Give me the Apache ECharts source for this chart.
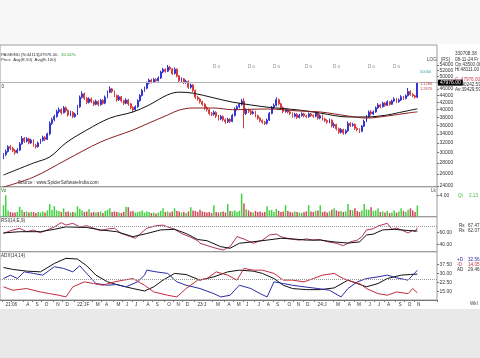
<!DOCTYPE html>
<html><head><meta charset="utf-8">
<script src="https://cdn.jsdelivr.net/npm/echarts@6/dist/echarts.min.js"></script>
<style>html,body{margin:0;padding:0;background:#fff}#c{width:480px;height:358px}</style>
</head><body><div id="c"></div>
<script>
// ---------- DATA ----------
const startDateUTC = [2021, 5, 4]; // first weekly bar (week ending 04-06-2021)
const monthLabels = ['21:06','J','A','S','O','N','D',
  '22:J','F','M','A','M','J','J','A','S','O','N','D',
  '23:J','','M','A','M','J','J','A','S','O','N','D',
  '24:J','','M','A','M','J','J','A','S','O','N'];

const opens = [29000,29600,30200,31200,30900,30400,30000,30500,31800,33000,
32400,32900,32000,32600,31500,31200,32000,32600,33200,32800,
34000,36500,37400,38200,39500,40000,39200,40500,39800,38600,
39300,38200,38800,40800,43500,44500,43200,42000,43000,42200,
41500,42300,41400,42600,41800,43500,45000,46000,45200,44000,
42800,43600,42500,41800,42700,41600,40600,40000,40800,42500,
44000,45500,46200,47800,48800,48200,49000,48600,49500,51500,
52400,51800,53200,52600,51000,52500,50200,48600,49200,48000,
48400,46500,47200,45500,43500,43000,42200,41500,40500,40000,
39000,38800,39300,38300,37600,38200,37400,36900,37500,37000,
38500,40200,40800,41500,42400,39000,40000,39600,39000,39400,
38400,37800,37200,36800,36500,37300,39000,40600,41200,42800,
41600,40600,39500,40000,39400,39000,38300,38800,38000,38500,
38900,38400,38200,38900,38500,38300,39200,37800,38400,37600,
37200,36800,37300,35900,36200,35200,34400,35000,34200,34700,
36500,36000,36200,35300,35000,34600,35800,37000,38200,39400,
38900,39400,40500,41300,40800,41800,41200,42200,41500,42400,
43000,42200,42700,43600,43100,43900,45200,44300,43900,43500];

const closes = [29600,30200,31200,30900,30400,30000,30500,31800,33000,32400,
32900,32000,32600,31500,31200,32000,32600,33200,32800,34000,
36500,37400,38200,39500,40000,39200,40500,39800,38600,39300,
38200,38800,40800,43500,44500,43200,42000,43000,42200,41500,
42300,41400,42600,41800,43500,45000,46000,45200,44000,42800,
43600,42500,41800,42700,41600,40600,40000,40800,42500,44000,
45500,46200,47800,48800,48200,49000,48600,49500,51500,52400,
51800,53200,52600,51000,52500,50200,48600,49200,48000,48400,
46500,47200,45500,43500,43000,42200,41500,40500,40000,39000,
38800,39300,38300,37600,38200,37400,36900,37500,37000,38500,
40200,40800,41500,42400,39000,40000,39600,39000,39400,38400,
37800,37200,36800,36500,37300,39000,40600,41200,42800,41600,
40600,39500,40000,39400,39000,38300,38800,38000,38500,38900,
38400,38200,38900,38500,38300,39200,37800,38400,37600,37200,
36800,37300,35900,36200,35200,34400,35000,34200,34700,36500,
36000,36200,35300,35000,34600,35800,37000,38200,39400,38900,
39400,40500,41300,40800,41800,41200,42200,41500,42400,43000,
42200,42700,43600,43100,43900,45200,44300,43900,43500,47976];

const lows = [28700,29300,30000,30500,30100,29600,29800,30300,31600,32000,
32100,31700,31800,31200,30800,31000,31800,32300,32400,32600,
33700,36100,37000,37900,39000,38700,39000,39300,38200,38300,
37800,37900,38600,40500,43100,42700,41500,41700,41800,41000,
41200,40900,41100,41400,41500,43200,44700,44700,43500,42200,
42400,42000,41300,41500,41100,40100,39300,39700,40500,42200,
43700,45100,45900,47400,47700,47900,48100,48300,49200,51100,
51300,51500,52100,50500,50700,49700,48100,48200,47500,47600,
46000,46100,45000,43000,42500,41700,41000,40000,39500,38500,
38300,38400,37800,37200,37300,37000,36400,36600,36600,36800,
38200,39800,40400,41100,35300,38600,39100,38600,38700,38000,
37400,36800,36400,36100,36200,37100,38800,40200,40900,41200,
40200,39100,39200,39000,38600,37900,38000,37600,37700,38200,
38000,37800,37900,38100,37900,38000,37400,37500,37200,36800,
36400,36500,35500,35400,34800,34000,34100,33800,33900,34500,
35600,35700,34900,34600,34200,34400,35600,36800,38000,38500,
38600,39200,40200,40400,40600,40800,41000,41100,41300,42100,
41800,41900,42400,42700,42900,43700,43900,43500,43100,43200];

const highs = [29900,30600,31500,31600,31200,30700,30900,32200,33500,33300,
33300,33100,32900,32800,31800,32300,32900,33600,33500,34300,
37000,37900,38700,40000,40600,40400,41000,40900,40100,39700,
39600,39200,41300,44000,45300,44900,43600,43500,43400,42600,
42800,42600,43000,42900,44000,45500,46800,46300,45500,44300,
44100,43900,42800,43200,43000,41900,40900,41200,42900,44400,
46000,46700,48300,49300,49200,49500,49400,50000,52000,53000,
52800,54000,53700,52900,53100,52800,50500,49700,49500,48900,
48700,47700,47500,45800,43900,43300,42500,41800,40900,40300,
39400,39800,39600,38600,38600,38500,37700,37900,37800,38900,
40600,41200,41900,43000,43200,40400,40300,39900,39800,39700,
38700,38100,37500,37100,37700,39400,41000,41700,43500,43100,
41900,40900,40400,40300,39700,39300,39200,39100,38900,39300,
39200,38700,39300,39200,38800,39600,39400,38800,38700,37900,
37500,37700,37500,36700,36400,35500,35400,35200,35100,37000,
36800,36600,36500,35600,35300,36100,37400,38600,39800,39900,
39800,40900,41800,41600,42200,42100,42600,42400,42800,43500,
43300,43100,44100,43900,44300,46300,45600,44700,44200,48111];

const volumes = [2.2,4.1,1.2,0.9,0.8,0.8,0.9,1.9,1.3,0.9,
1.0,0.8,0.9,0.9,0.7,0.9,0.8,1.0,0.8,1.2,
2.4,1.3,2.0,1.2,1.1,0.9,1.6,0.9,1.0,0.8,
0.9,0.8,2.0,1.5,1.2,0.9,1.0,1.4,0.8,0.9,
0.8,0.9,1.0,0.7,1.1,1.3,1.6,0.9,1.0,0.9,
0.8,0.7,0.9,1.9,1.8,1.0,1.1,0.8,0.9,1.0,
1.2,0.8,1.0,0.9,0.7,0.8,0.6,0.8,1.1,1.6,
0.9,1.0,0.8,1.0,1.6,1.1,1.0,0.8,0.9,0.7,
1.0,1.8,1.2,1.1,0.9,1.3,1.0,0.9,0.8,0.9,
0.7,2.2,0.9,0.8,0.9,1.0,0.8,2.4,1.1,1.0,
1.2,0.9,1.1,4.4,2.5,1.4,1.2,0.9,0.8,1.1,
0.9,1.0,0.8,0.9,2.0,1.2,1.3,0.9,1.5,1.1,
0.9,1.0,2.2,1.1,0.9,0.8,1.0,0.9,0.8,0.7,
0.9,1.0,2.2,1.0,0.9,1.1,1.2,2.2,0.9,1.0,
0.8,1.0,1.3,1.6,1.2,1.0,1.1,0.9,1.0,2.4,
1.3,1.2,1.6,1.1,0.9,1.2,2.4,1.4,1.3,1.8,
1.1,1.2,1.6,0.9,1.0,0.8,1.1,0.7,0.8,1.2,
0.8,1.0,1.6,1.1,0.9,1.3,1.6,1.2,0.9,2.13];

// averages / indicators: [bar index, value]
const ema50Pts = [[0,25800],[13,27970],[20,29130],[27,32000],[36,34900],[46,37800],[56,39400],[63,41300],[71,44200],[76,45000],[82,44700],[91,43300],[99,42100],[107,41300],[114,40700],[128,39900],[137,39100],[149,38100],[157,38100],[166,38600],[170,39100],[179,40243]];
const ema100Pts = [[0,23800],[13,25450],[27,28530],[42,32200],[56,34900],[63,36600],[71,38600],[76,39900],[82,40460],[91,40460],[99,40000],[114,40190],[128,39650],[137,39400],[149,38350],[157,37820],[166,38350],[175,39130],[179,39430]];
const rsiPts = [[0,58],[3,62.7],[7,66.7],[10,61],[13,63.8],[16,59.4],[19,64],[22,69],[24,73.8],[25,76],[27,72],[30,75],[33,69],[36,71],[39,66.7],[42,62.7],[45,65.5],[48,66.7],[51,58],[55,52.7],[57,50],[59,57],[62,66.7],[66,71],[69,72],[71,69],[74,65],[77,58],[81,51.7],[84,46],[85,41.7],[88,38],[91,34.4],[95,30.5],[98,36],[100,47],[101,53],[104,48.8],[108,41.7],[112,47],[115,55.5],[118,57],[120,52.7],[124,48.8],[128,47],[131,49],[134,47],[137,48],[140,44.3],[144,41.7],[147,37.7],[150,44],[153,47],[155,52.7],[157,64],[160,66],[162,70.5],[166,75],[168,65],[170,67],[172,64],[175,59],[177,63],[178,61],[179,67.47]];
const rsiSignalPts = [[0,59],[7,61],[16,61],[22,65],[27,69],[36,68],[42,64],[49,61],[56,52.7],[62,58],[68,64],[74,65],[79,58],[84,48],[88,46],[94,36],[98,33.4],[102,41.7],[108,44.3],[114,47],[120,50],[125,49],[131,47],[137,47],[143,44],[149,42],[154,44],[157,55.5],[160,57],[164,64],[169,65],[175,63],[179,62.07]];
const adxPts = [[0,34.9],[4,33.3],[10,31.9],[16,31.3],[22,38.2],[27,42.4],[32,41.8],[36,36.3],[40,28.6],[45,23.1],[50,20.3],[56,17.6],[61,15.6],[65,19],[69,24.5],[74,30],[79,29.1],[85,24.5],[91,27.2],[97,31.3],[102,32.7],[108,31.9],[112,30],[117,25.8],[121,20.3],[125,17.6],[131,16.7],[137,16.7],[143,18.1],[149,24.5],[153,21.7],[157,19],[162,21.7],[166,25.8],[172,28.6],[176,29.1],[179,29.46]];
const plusDiPts = [[0,25.8],[3,28.6],[6,25.8],[9,31.3],[13,30],[17,28.6],[22,35.5],[26,34.1],[30,31.3],[33,36.3],[36,30],[40,21.7],[45,20.3],[49,20.9],[53,19],[58,23.1],[61,28.6],[62,32.7],[66,31.3],[71,30],[75,23.1],[79,20.3],[85,17.6],[91,13.4],[94,10.7],[98,12.1],[100,16.2],[102,20.3],[107,17.6],[111,13.4],[114,10.7],[117,23.1],[121,21.7],[125,20.3],[130,19],[136,17.6],[141,16.2],[146,10.7],[149,17.6],[153,23.1],[157,25.8],[162,27.2],[166,28.6],[170,26.4],[175,24.5],[177,28.6],[179,32.56]];
const minusDiPts = [[0,19],[4,16.2],[10,17.6],[16,14.8],[20,13.4],[24,12.1],[27,10.7],[30,19],[35,23.1],[39,21.7],[43,20.3],[48,23.1],[52,24.5],[56,25.8],[61,20.3],[65,14.8],[71,12.1],[75,10.7],[79,17.6],[84,24.5],[88,25.8],[92,31.3],[97,28.6],[101,24.5],[104,34.1],[108,32.7],[112,32.7],[117,30],[121,24.5],[125,24.5],[130,23.1],[134,25.8],[138,28.6],[143,30],[147,25.8],[151,23.1],[154,21.7],[157,17.6],[162,13.4],[166,12.1],[170,14.8],[175,13.4],[177,17.6],[179,14.05]];

const priceTicks = [24000,26000,28000,30000,32000,34000,36000,38000,40000,42000,44000,46000,48000,50000,52000,54000];
const volTicks = [4];
const rsiTicks = [40,60];
const adxTicks = [15,22.5,30,37.5];
const lastPrice = 47976, lastVol = 2.13;

// ---------- BUILD ----------
const LEAD = 1, TRAIL = 8, N = closes.length, TOTAL = LEAD + N + TRAIL;
const cats = [], xLabels = [];
let mi = -1, prevM = null;
const t0 = Date.UTC(startDateUTC[0], startDateUTC[1], startDateUTC[2]);
for (let k = 0; k < TOTAL; k++) {
  const i = k - LEAD;
  if (i >= 0 && i < N) {
    const d = new Date(t0 + i * 7 * 86400000);
    const m = d.getUTCFullYear() * 12 + d.getUTCMonth();
    if (m !== prevM) { mi++; prevM = m; xLabels.push(monthLabels[mi] || ''); } else xLabels.push('');
    cats.push(d.toISOString().slice(0, 10));
  } else { cats.push('x' + k); xLabels.push(''); }
}
const UP = '#3434d0', DN = '#d43c3c', VUP = '#3fd43f', VDN = '#d2485a';
const candleData = cats.map((c, k) => { const i = k - LEAD; return (i >= 0 && i < N) ? [opens[i], closes[i], lows[i], highs[i]] : '-'; });
const volData = cats.map((c, k) => { const i = k - LEAD; return (i >= 0 && i < N) ? { value: volumes[i], itemStyle: { color: closes[i] >= opens[i] ? VUP : VDN } } : '-'; });
const sh = pts => pts.map(p => [p[0] + LEAD, p[1]]);

const FONT = 'Liberation Sans, Arial, sans-serif';
const FS = 5;
const GL = 0, GW = 437;
const grids = [
  { left: GL, width: GW, top: 45, height: 141.7 },
  { left: GL, width: GW, top: 186.7, height: 30 },
  { left: GL, width: GW, top: 216.7, height: 35 },
  { left: GL, width: GW, top: 251.7, height: 48.3 }
].map(g => Object.assign(g, { show: true, borderColor: '#9a9a9a', borderWidth: 1, backgroundColor: 'transparent' }));

const xAxes = [0, 1, 2, 3].map(gi => ({
  type: 'category', gridIndex: gi, data: cats, boundaryGap: true,
  axisLine: { show: gi === 3, lineStyle: { color: '#777' } },
  axisTick: gi === 3 ? { show: true, length: 2, lineStyle: { color: '#777' }, interval: (idx) => xLabels[idx] !== '' } : { show: false },
  axisLabel: gi === 3 ? { show: true, showMinLabel: true, showMaxLabel: true, hideOverlap: false, interval: (idx) => xLabels[idx] !== '',
    formatter: (v, idx) => xLabels[idx], fontSize: 4.7, fontFamily: FONT, color: '#333', margin: 2, align: 'left', padding: [0, 0, 0, 2] } : { show: false },
  splitLine: { show: false }
}));

function yAx(gi, type, min, max, ticks, fmt) {
  return {
    type, gridIndex: gi, min, max, position: 'right', logBase: 10,
    axisLine: { show: false },
    axisTick: { show: true, length: 2, inside: false, customValues: ticks, lineStyle: { color: '#777' } },
    axisLabel: { show: true, customValues: ticks, formatter: fmt, fontSize: FS, fontFamily: FONT, color: '#333', margin: 2.5 },
    splitLine: { show: false }
  };
}
const yAxes = [
  yAx(0, 'log', 23857, 61760, priceTicks, v => String(Math.round(v))),
  yAx(1, 'value', 0, 5.714, volTicks, v => v.toFixed(2)),
  yAx(2, 'value', 27.67, 86, rsiTicks, v => v.toFixed(2)),
  yAx(3, 'value', 8.19, 47.84, adxTicks, v => v.toFixed(2))
];

function ln(name, gi, pts, color, smooth) {
  return { name, type: 'line', xAxisIndex: gi, yAxisIndex: gi, data: sh(pts), showSymbol: false, symbol: 'none', smooth: smooth || false, lineStyle: { color, width: 1 }, silent: true, z: 3 };
}
const boxLabel = (txt) => ({ show: true, position: 'end', formatter: txt, backgroundColor: '#000', color: '#fff', fontSize: FS, fontFamily: FONT, padding: [1, 2, 0, 2], distance: 1 });

const series = [
  { type: 'candlestick', xAxisIndex: 0, yAxisIndex: 0, data: candleData, barWidth: 1.4,
    itemStyle: { color: UP, color0: DN, borderColor: UP, borderColor0: DN, borderWidth: 1 },
    markLine: { silent: true, symbol: ['none', 'none'], animation: false, data: [{ yAxis: lastPrice }],
      lineStyle: { color: '#b4b4b4', width: 1, type: 'solid' }, label: boxLabel(lastPrice.toFixed(2)) } },
  ln('Avg(E,50)', 0, ema50Pts, '#111', 0.35),
  ln('Avg(E,100)', 0, ema100Pts, '#8a1e1e', 0.35),
  { type: 'bar', xAxisIndex: 1, yAxisIndex: 1, data: volData, barWidth: 1.5, silent: true,
    markLine: { silent: true, symbol: ['none', 'none'], animation: false, data: [{ yAxis: lastVol }],
      lineStyle: { opacity: 0 }, label: boxLabel(lastVol.toFixed(2)) } },
  Object.assign(ln('RSI', 2, rsiPts, '#b23262'), { markLine: { silent: true, symbol: ['none','none'], animation: false, data: [{ yAxis: 70 }], lineStyle: { color: '#999', type: 'dotted', width: 1 }, label: { show: false } } }),
  ln('RSIsig', 2, rsiSignalPts, '#111'),
  Object.assign(ln('ADX', 3, adxPts, '#111'), { markLine: { silent: true, symbol: ['none','none'], animation: false, data: [{ yAxis: 25 }], lineStyle: { color: '#999', type: 'dotted', width: 1 }, label: { show: false } } }),
  ln('+DI', 3, plusDiPts, '#2b2ba8'),
  ln('-DI', 3, minusDiPts, '#c42a3a')
];

function tx(x, y, text, fill, size, extra) {
  return Object.assign({ type: 'text', x, y, silent: true, z: 10,
    style: { text, fill: fill || '#333', font: (size || FS) + 'px ' + FONT, verticalAlign: 'middle' } }, extra || {});
}
const TS = 4.6;
const graphics = [
  { type: 'rect', shape: { x: 0, y: 0, width: 480, height: 44 }, style: { fill: '#f7f7f7' }, z: -10, silent: true },
  { type: 'rect', shape: { x: 0, y: 309, width: 480, height: 49 }, style: { fill: '#e9e9e9' }, z: -10, silent: true },
  tx(1, 54.5, 'PAGEIND [N:44113]47976.00,', '#333', 4.3),
  tx(61, 54.5, '10.54%', '#2a9a2a', 4.3),
  tx(1, 60, 'Price  Avg(E,50)  Avg(E,100)', '#333', 4.3),
  tx(1.5, 87, '0', '#333', TS),
  tx(18, 183, 'Source : www.SpiderSoftwareIndia.com', '#333', TS),
  tx(1, 190.5, 'Vo', '#2a7a2a', TS),
  tx(431, 190.5, 'Lk', '#555', TS),
  tx(1, 221, 'RSI(14,E,9)', '#333', TS),
  tx(1, 255.5, 'ADX(14,14)', '#333', TS),
  tx(427, 60, 'LOG', '#444', TS),
  tx(441, 60, '[RS]', '#444', TS),
  tx(420, 72, '50000', '#3aa0a0', 4),
  tx(420, 84, '1.1280', '#c04040', 4),
  tx(420, 88.5, '1.2670', '#c04040', 4),
  tx(455, 53.5, '330708.38', '#333', TS),
  tx(455, 59.5, '08-11-24 Fr', '#333', TS),
  tx(455, 64.5, 'Op:43500.00', '#333', TS),
  tx(455, 69.5, 'Hi:48111.00', '#333', TS),
  tx(455, 80, 'C  47976.00', '#c0404f', TS),
  tx(455, 85, 'Av:40242.59', '#333', TS),
  tx(455, 90, 'Av:39429.59', '#333', TS),
  tx(458, 196, 'Qt', '#3cbf3c', TS),
  tx(469, 196, '2.13', '#3cbf3c', TS),
  tx(459, 226, 'Rs', '#333', TS),
  tx(468, 226, '67.47', '#333', TS),
  tx(459, 231, 'Rs', '#333', TS),
  tx(468, 231, '62.07', '#333', TS),
  tx(457, 260, '+D', '#2b2ba8', TS),
  tx(468, 260, '32.56', '#2b2ba8', TS),
  tx(457, 265, '-D', '#c42a3a', TS),
  tx(468, 265, '14.05', '#c42a3a', TS),
  tx(457, 270, 'AD', '#333', TS),
  tx(468, 270, '29.46', '#333', TS),
  tx(470, 303.5, 'Wkl', '#444', TS)
];
[213, 248, 273, 305, 333, 368, 393].forEach(x => graphics.push(tx(x, 67, 'D o', '#888', 4.5)));

const chart = echarts.init(document.getElementById('c'), null, { renderer: 'canvas' });
chart.setOption({
  animation: false, backgroundColor: '#ffffff',
  textStyle: { fontFamily: FONT },
  grid: grids, xAxis: xAxes, yAxis: yAxes, series, graphic: graphics
});
</script></body></html>
